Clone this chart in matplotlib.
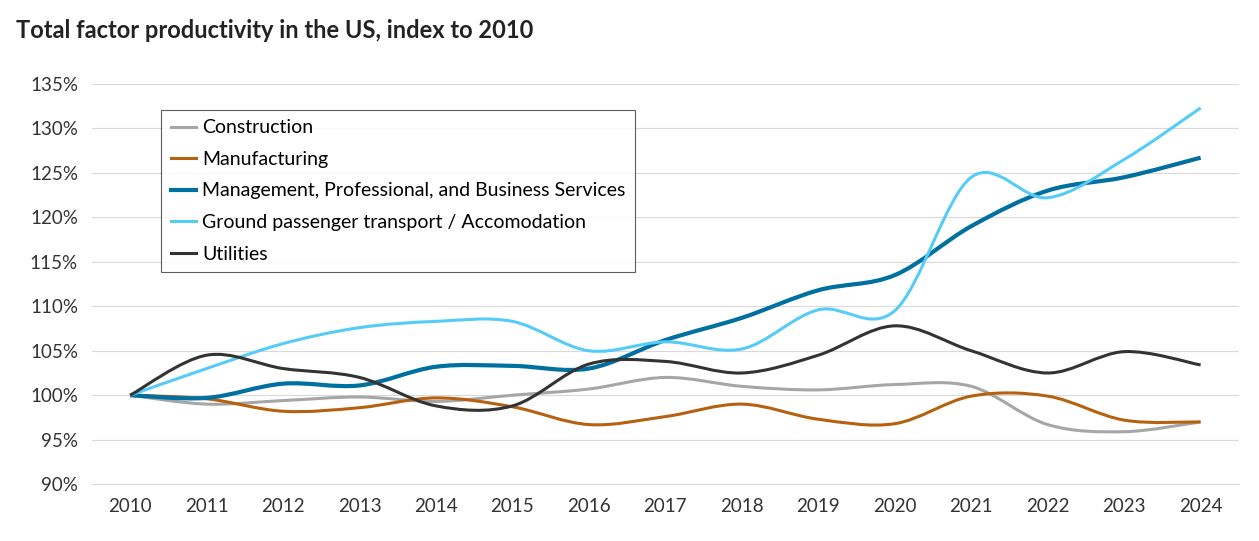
import numpy as np
import matplotlib
matplotlib.use("Agg")
import matplotlib.pyplot as plt
from matplotlib.path import Path
from matplotlib.patches import PathPatch
from matplotlib.lines import Line2D
import matplotlib.ticker as mticker

plt.rcParams['font.family'] = ['Lato', 'DejaVu Sans']

years = np.arange(2010, 2025)
series = {
    'Construction': ([100, 99.0, 99.4, 99.8, 99.3, 100.0, 100.7, 102.0, 101.0, 100.6, 101.2, 101.0, 96.7, 95.9, 97.0], '#a6a6a6'),
    'Manufacturing': ([100, 99.6, 98.2, 98.6, 99.7, 98.7, 96.7, 97.6, 99.0, 97.3, 96.8, 99.9, 99.9, 97.2, 97.0], '#b5610f'),
    'Management, Professional, and Business Services': ([100, 99.7, 101.3, 101.1, 103.2, 103.3, 103.0, 106.2, 108.7, 111.8, 113.5, 119.0, 123.0, 124.5, 126.7], '#0070a0'),
    'Ground passenger transport / Accomodation': ([100, 103.0, 105.8, 107.6, 108.3, 108.3, 105.0, 106.0, 105.2, 109.6, 109.5, 124.5, 122.2, 126.5, 132.3], '#55ccf7'),
    'Utilities': ([100, 104.5, 103.0, 102.0, 98.8, 98.8, 103.5, 103.8, 102.5, 104.5, 107.8, 105.0, 102.5, 104.9, 103.4], '#333333'),
}

def smooth_path(x, y):
    # Excel-style smoothed line drawn as cubic bezier segments
    pts = np.column_stack([x, y]).astype(float)
    n = len(pts)
    verts = [pts[0]]
    codes = [Path.MOVETO]
    for i in range(n - 1):
        p0 = pts[max(i - 1, 0)]
        p1 = pts[i]
        p2 = pts[i + 1]
        p3 = pts[min(i + 2, n - 1)]
        c1 = p1 + (p2 - p0) / 6
        c2 = p2 - (p3 - p1) / 6
        verts += [c1, c2, p2]
        codes += [Path.CURVE4] * 3
    return Path(verts, codes)

fig, ax = plt.subplots(figsize=(12.59, 5.41), dpi=100)
fig.subplots_adjust(left=0.073, right=0.984, top=0.845, bottom=0.105)

handles = []
for name, (vals, col) in series.items():
    lw = 3 if 'Management' in name else 2.2
    ax.add_patch(PathPatch(smooth_path(years, vals), facecolor='none', edgecolor=col, lw=lw))
    handles.append(Line2D([], [], color=col, lw=lw, label=name))

ax.set_xlim(2009.5, 2024.5)
ax.set_ylim(90, 135)
ax.set_xticks(years)
ax.set_yticks(np.arange(90, 136, 5))
ax.yaxis.set_major_formatter(mticker.FuncFormatter(lambda v, p: f"{v:.0f}%"))
ax.grid(axis='y', color='#d9d9d9', lw=0.8)
ax.set_axisbelow(True)
for s in ['top', 'right', 'left']:
    ax.spines[s].set_visible(False)
ax.spines['bottom'].set_color('#d9d9d9')
ax.tick_params(length=0, labelsize=13.5, colors='#333333', pad=10)

leg = ax.legend(handles=handles, loc='upper left', bbox_to_anchor=(0.052, 0.96),
                fontsize=14, frameon=True, fancybox=False, handlelength=1.3,
                handletextpad=0.3, labelspacing=0.75, borderpad=0.5)
leg.get_frame().set_edgecolor('#333333')
leg.get_frame().set_linewidth(0.8)

fig.text(0.013, 0.93, 'Total factor productivity in the US, index to 2010',
         fontsize=17, fontweight='bold', color='#222222')

plt.savefig('out.png', dpi=100)
